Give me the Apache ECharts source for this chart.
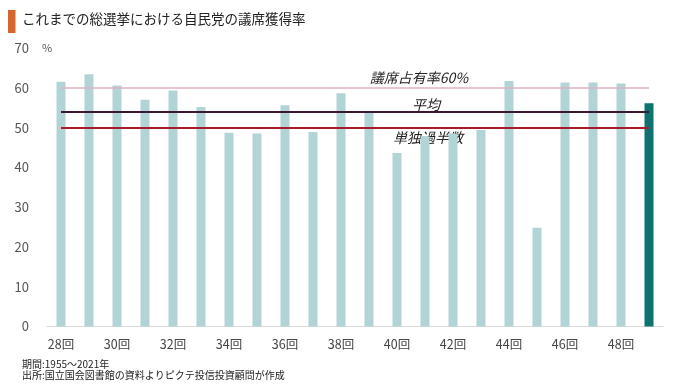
<!DOCTYPE html>
<html>
<head>
<meta charset="utf-8">
<script src="https://cdn.jsdelivr.net/npm/echarts@6/dist/echarts.min.js"></script>
<style>
html,body{margin:0;padding:0;background:#fff;}
#c{width:680px;height:389px;}
</style>
</head>
<body>
<div id="c"></div>
<script>
const categories = ['28回','29回','30回','31回','32回','33回','34回','35回','36回','37回','38回','39回','40回','41回','42回','43回','44回','45回','46回','47回','48回','49回'];
const seatShare = [61.5,63.4,60.6,57.0,59.3,55.2,48.7,48.5,55.6,48.9,58.6,53.7,43.6,47.8,48.5,49.4,61.7,24.8,61.3,61.3,61.1,56.1];
const refValues = {share60: 60, average: 54.1, majority: 50};
const refLabels = ['議席占有率60%','平均','単独過半数'];
const yTicks = [0,10,20,30,40,50,60,70];

const FONT = '"Noto Sans CJK JP", "Noto Sans", sans-serif';
const last = seatShare.length - 1;
const barData = seatShare.map((v,i)=> i===last ? {value:v,itemStyle:{color:'#0d7270'}} : v);

const chart = echarts.init(document.getElementById('c'), null, {renderer:'canvas'});
chart.setOption({
  animation:false,
  backgroundColor:'#fff',
  textStyle:{fontFamily:FONT},
  grid:{left:47,right:17,top:48,bottom:62.5,containLabel:false},
  xAxis:{
    type:'category',
    data:categories,
    axisLine:{lineStyle:{color:'#d9d9d9',width:1}},
    axisTick:{show:false},
    axisLabel:{interval:1,color:'#444',fontSize:12.5,margin:11,fontFamily:FONT}
  },
  yAxis:{
    type:'value',
    min:yTicks[0],max:yTicks[yTicks.length-1],interval:10,
    name:'%',nameLocation:'end',nameGap:0,
    nameTextStyle:{color:'#555',fontSize:11,verticalAlign:'middle',align:'center',fontFamily:FONT},
    axisLine:{show:false},axisTick:{show:false},
    splitLine:{show:false},
    axisLabel:{color:'#555',fontSize:13,margin:18,fontFamily:FONT}
  },
  series:[{
    type:'bar',
    data:barData,
    barWidth:9,
    itemStyle:{color:'#b3d4d6'},
    silent:true,
    markLine:{
      silent:true,
      symbol:'none',
      label:{show:false},
      z:5,
      data:[
        [{coord:[categories[0],refValues.share60],lineStyle:{color:'#dbb3c3',width:1.5,type:'solid'}},{coord:[categories[last],refValues.share60]}],
        [{coord:[categories[0],refValues.average],lineStyle:{color:'#3a1830',width:2,type:'solid'}},{coord:[categories[last],refValues.average]}],
        [{coord:[categories[0],refValues.majority],lineStyle:{color:'#a81a2a',width:1.8,type:'solid'}},{coord:[categories[last],refValues.majority]}]
      ]
    }
  }],
  graphic:[
    {type:'rect',left:8,top:10,shape:{width:7.5,height:23},style:{fill:'#d9652b'}},
    {type:'text',left:22,top:12,style:{text:'これまでの総選挙における自民党の議席獲得率',fill:'#222',font:'13.5px '+FONT}},
    {type:'text',x:419,y:78,style:{text:refLabels[0],fill:'#222',font:'italic 14px '+FONT,align:'center',verticalAlign:'middle'}},
    {type:'text',x:426,y:105,style:{text:refLabels[1],fill:'#222',font:'italic 14px '+FONT,align:'center',verticalAlign:'middle'}},
    {type:'text',x:428,y:138,style:{text:refLabels[2],fill:'#222',font:'italic 14px '+FONT,align:'center',verticalAlign:'middle'}},
    {type:'text',left:22,top:359,style:{text:'期間:1955～2021年',fill:'#222',font:'10px '+FONT}},
    {type:'text',left:22,top:370,style:{text:'出所:国立国会図書館の資料よりピクテ投信投資顧問が作成',fill:'#222',font:'10px '+FONT}}
  ]
});
</script>
</body>
</html>
